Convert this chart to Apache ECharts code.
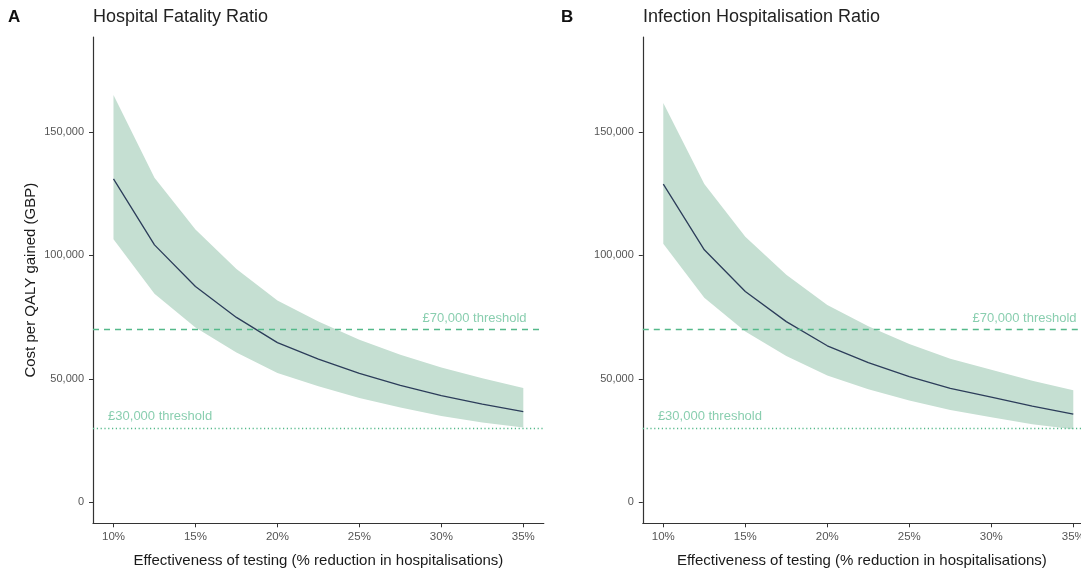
<!DOCTYPE html>
<html>
<head>
<meta charset="utf-8">
<script src="https://cdn.jsdelivr.net/npm/echarts@6/dist/echarts.min.js"></script>
<style>
  html, body { margin: 0; padding: 0; background: #ffffff; }
  #chart { width: 1081px; height: 571px; }
</style>
</head>
<body>
<div id="chart"></div>
<script>
// Testing effectiveness (% reduction in hospitalisations)
const xValues = [10, 12.5, 15, 17.5, 20, 22.5, 25, 27.5, 30, 32.5, 35];
const xTicks = [10, 15, 20, 25, 30, 35];
const yTicks = [0, 50000, 100000, 150000];

// Panel A: Hospital Fatality Ratio — cost per QALY gained (GBP)
const hfrMid   = [131000, 104300, 87400, 74900, 64700, 58000, 52200, 47400, 43200, 39800, 36700];
const hfrUpper = [165000, 131500, 110500, 94500, 81800, 73200, 65900, 59800, 54600, 50300, 46300];
const hfrLower = [106600, 84500, 70800, 60700, 52400, 47000, 42300, 38400, 35000, 32300, 30300];

// Panel B: Infection Hospitalisation Ratio — cost per QALY gained (GBP)
const ihrMid   = [128900, 102300, 85400, 73200, 63400, 56600, 50900, 46200, 42600, 39000, 35700];
const ihrUpper = [161800, 128900, 107600, 92200, 79900, 71300, 64100, 58200, 53700, 49200, 45400];
const ihrLower = [104700, 82900, 69200, 59300, 51400, 45800, 41200, 37400, 34500, 31600, 29600];

// Willingness-to-pay thresholds
const thresholds = [70000, 30000];
const thresholdLabels = ['£70,000 threshold', '£30,000 threshold'];

const panelTitles = ['Hospital Fatality Ratio', 'Infection Hospitalisation Ratio'];
const panelTags = ['A', 'B'];

const FONT = '"Liberation Sans", Arial, Helvetica, sans-serif';
const GREEN = '#55b98a';
const BAND = '#c5dfd2';
const LINE = '#2c3d5a';
const AXIS = '#333333';

const chart = echarts.init(document.getElementById('chart'), null, { renderer: 'canvas' });

function fmtThousands(v) {
  return Math.round(v).toLocaleString('en-US');
}

// Panel B is cut by the page edge, so its x range stops a little short
const xMax = [36.25, 35.47];

function xAxisFor(i) {
  return {
    type: 'value', gridIndex: i, min: 8.75, max: xMax[i],
    name: 'Effectiveness of testing (% reduction in hospitalisations)',
    nameLocation: 'middle', nameGap: 30,
    nameTextStyle: { fontFamily: FONT, fontSize: 15, color: '#1a1a1a' },
    axisLine: { show: true, onZero: false, lineStyle: { color: AXIS, width: 1.2 } },
    axisTick: { show: true, length: 4, customValues: xTicks, lineStyle: { color: AXIS } },
    axisLabel: { show: true, customValues: xTicks, margin: 8, fontFamily: FONT, fontSize: 11.5, color: '#555555',
                 formatter: v => v + '%', showMaxLabel: true },
    splitLine: { show: false }
  };
}

function yAxisFor(i) {
  return {
    type: 'value', gridIndex: i, min: -8500, max: 188500,
    name: i === 0 ? 'Cost per QALY gained (GBP)' : '',
    nameLocation: 'middle', nameGap: 55,
    nameTextStyle: { fontFamily: FONT, fontSize: 15, color: '#1a1a1a' },
    axisLine: { show: true, onZero: false, lineStyle: { color: AXIS, width: 1.2 } },
    axisTick: { show: true, length: 4, customValues: yTicks, lineStyle: { color: AXIS } },
    axisLabel: { show: true, customValues: yTicks, margin: 9, fontFamily: FONT, fontSize: 11, color: '#555555',
                 formatter: fmtThousands },
    splitLine: { show: false }
  };
}

// Shaded uncertainty band drawn as one polygon from upper then lower bounds
function bandSeries(i, lower, upper) {
  return {
    type: 'custom', xAxisIndex: i, yAxisIndex: i, silent: true, z: 1,
    data: xValues.map((x, k) => [x, lower[k], upper[k]]),
    renderItem: function (params, api) {
      if (params.dataIndex !== 0) return null;
      const pts = [];
      for (let k = 0; k < xValues.length; k++) pts.push(api.coord([xValues[k], upper[k]]));
      for (let k = xValues.length - 1; k >= 0; k--) pts.push(api.coord([xValues[k], lower[k]]));
      return { type: 'polygon', shape: { points: pts }, style: { fill: BAND } };
    }
  };
}

function midSeries(i, mid) {
  return {
    type: 'line', xAxisIndex: i, yAxisIndex: i, silent: true, z: 3,
    data: xValues.map((x, k) => [x, mid[k]]),
    showSymbol: false, symbol: 'none',
    lineStyle: { color: LINE, width: 1.3 },
    markLine: {
      silent: true, symbol: 'none', label: { show: false },
      data: [
        { yAxis: thresholds[0], lineStyle: { color: GREEN, type: [6, 5], width: 1.4 } },
        { yAxis: thresholds[1], lineStyle: { color: GREEN, type: [1.2, 2.6], width: 1.4 } }
      ]
    }
  };
}

// Threshold captions anchored in data space
function captionSeries(i) {
  return {
    type: 'scatter', xAxisIndex: i, yAxisIndex: i, silent: true, z: 4,
    symbolSize: 0,
    data: [
      { value: [35.2, thresholds[0]],
        label: { show: true, position: 'left', distance: 0, offset: [0, -11], formatter: thresholdLabels[0] } },
      { value: [9.67, thresholds[1]],
        label: { show: true, position: 'right', distance: 0, offset: [0, -12], formatter: thresholdLabels[1] } }
    ],
    label: { fontFamily: FONT, fontSize: 13, color: '#6cc29b' }
  };
}

const grids = [
  { left: 93, top: 37, right: 537.2, bottom: 47.7, outerBoundsMode: 'none', containLabel: false },
  { left: 642.8, top: 37, right: 0, bottom: 47.7, outerBoundsMode: 'none', containLabel: false }
];

const option = {
  backgroundColor: '#ffffff',
  animation: false,
  title: [
    { text: panelTags[0], left: 8, top: 9, padding: 0,
      textStyle: { fontFamily: FONT, fontSize: 17, fontWeight: 'bold', color: '#111111' } },
    { text: panelTitles[0], left: 93, top: 8, padding: 0,
      textStyle: { fontFamily: FONT, fontSize: 18, fontWeight: 'normal', color: '#222222' } },
    { text: panelTags[1], left: 561, top: 9, padding: 0,
      textStyle: { fontFamily: FONT, fontSize: 17, fontWeight: 'bold', color: '#111111' } },
    { text: panelTitles[1], left: 643, top: 8, padding: 0,
      textStyle: { fontFamily: FONT, fontSize: 18, fontWeight: 'normal', color: '#222222' } }
  ],
  grid: grids,
  xAxis: [xAxisFor(0), xAxisFor(1)],
  yAxis: [yAxisFor(0), yAxisFor(1)],
  series: [
    bandSeries(0, hfrLower, hfrUpper),
    midSeries(0, hfrMid),
    captionSeries(0),
    bandSeries(1, ihrLower, ihrUpper),
    midSeries(1, ihrMid),
    captionSeries(1)
  ]
};

chart.setOption(option);
</script>
</body>
</html>
